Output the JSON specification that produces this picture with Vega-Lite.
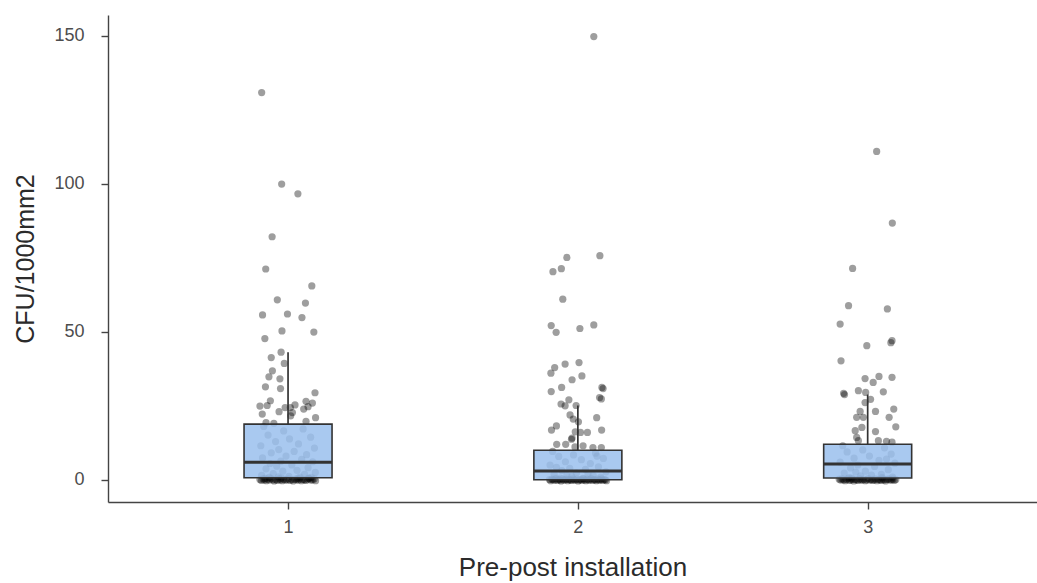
{
  "$schema": "https://vega.github.io/schema/vega-lite/v6.json",
  "width": 929,
  "height": 487,
  "autosize": {"type": "none"},
  "padding": {"left": 108, "top": 15, "right": 0, "bottom": 81},
  "background": "white",
  "config": {
    "view": {"stroke": null},
    "axis": {
      "grid": false,
      "domainColor": "#444444",
      "domainWidth": 1.4,
      "tickColor": "#444444",
      "tickWidth": 1.4,
      "tickSize": 7,
      "labelFont": "Liberation Sans",
      "labelFontSize": 18,
      "labelColor": "#4d4d4d",
      "titleFont": "Liberation Sans",
      "titleFontSize": 24,
      "titleFontWeight": "normal",
      "titleColor": "#2b2b2b"
    }
  },
  "datasets": {
    "pts": [
      {"x": 0.909, "v": 130.8}, {"x": 0.978, "v": 99.9}, {"x": 1.034, "v": 96.6}, {"x": 0.945, "v": 82.1},
      {"x": 0.923, "v": 71.2}, {"x": 1.082, "v": 65.5}, {"x": 0.963, "v": 60.8}, {"x": 1.06, "v": 59.7},
      {"x": 0.912, "v": 55.7}, {"x": 0.998, "v": 56.0}, {"x": 1.048, "v": 54.8}, {"x": 0.979, "v": 50.3},
      {"x": 1.089, "v": 49.9}, {"x": 0.92, "v": 47.7}, {"x": 0.976, "v": 43.1}, {"x": 0.942, "v": 41.3},
      {"x": 0.987, "v": 39.3}, {"x": 0.946, "v": 36.8}, {"x": 0.934, "v": 34.8}, {"x": 0.972, "v": 34.1},
      {"x": 0.922, "v": 31.4}, {"x": 0.974, "v": 30.8}, {"x": 1.093, "v": 29.4}, {"x": 0.939, "v": 26.7},
      {"x": 1.062, "v": 26.5}, {"x": 1.084, "v": 25.9}, {"x": 0.903, "v": 24.9}, {"x": 0.928, "v": 25.1},
      {"x": 0.99, "v": 24.4}, {"x": 1.024, "v": 25.3}, {"x": 0.969, "v": 23.0}, {"x": 1.008, "v": 24.4},
      {"x": 1.015, "v": 22.7}, {"x": 1.054, "v": 23.9}, {"x": 1.069, "v": 24.7}, {"x": 0.911, "v": 22.2},
      {"x": 1.095, "v": 21.0}, {"x": 1.009, "v": 21.6}, {"x": 0.924, "v": 19.3}, {"x": 0.951, "v": 19.1},
      {"x": 1.062, "v": 19.7},
      {"x": 0.916, "v": 18.0}, {"x": 1.052, "v": 17.2}, {"x": 0.985, "v": 16.5}, {"x": 0.931, "v": 15.1},
      {"x": 1.078, "v": 14.4}, {"x": 1.005, "v": 13.8}, {"x": 0.957, "v": 12.9}, {"x": 1.036, "v": 12.1},
      {"x": 0.906, "v": 11.5}, {"x": 1.091, "v": 10.7}, {"x": 0.968, "v": 10.2}, {"x": 1.021, "v": 9.6},
      {"x": 0.942, "v": 9.1}, {"x": 1.064, "v": 8.5}, {"x": 0.993, "v": 8.0}, {"x": 0.912, "v": 7.4},
      {"x": 1.047, "v": 6.9}, {"x": 0.975, "v": 6.3}, {"x": 1.085, "v": 6.1}, {"x": 0.938, "v": 5.5},
      {"x": 1.013, "v": 5.0}, {"x": 0.961, "v": 4.6}, {"x": 1.069, "v": 4.1}, {"x": 0.924, "v": 3.7},
      {"x": 1.031, "v": 3.2}, {"x": 0.982, "v": 2.9}, {"x": 1.094, "v": 2.5}, {"x": 0.949, "v": 2.1},
      {"x": 1.057, "v": 1.8}, {"x": 0.909, "v": 1.5}, {"x": 1.003, "v": 1.2}, {"x": 0.967, "v": 1.0},
      {"x": 1.041, "v": 0.9}, {"x": 0.935, "v": 0.8}, {"x": 1.08, "v": 0.8},
      {"x": 0.903, "v": 0.1}, {"x": 0.908, "v": -0.2}, {"x": 0.914, "v": 0.3}, {"x": 0.919, "v": 0.0},
      {"x": 0.925, "v": -0.3}, {"x": 0.93, "v": 0.2}, {"x": 0.936, "v": -0.1}, {"x": 0.941, "v": 0.4},
      {"x": 0.947, "v": 0.0}, {"x": 0.952, "v": -0.4}, {"x": 0.958, "v": 0.1}, {"x": 0.963, "v": -0.2},
      {"x": 0.969, "v": 0.3}, {"x": 0.974, "v": 0.0}, {"x": 0.98, "v": -0.3}, {"x": 0.985, "v": 0.2},
      {"x": 0.991, "v": -0.1}, {"x": 0.996, "v": 0.0}, {"x": 1.002, "v": 0.3}, {"x": 1.007, "v": -0.2},
      {"x": 1.013, "v": 0.1}, {"x": 1.018, "v": -0.4}, {"x": 1.024, "v": 0.2}, {"x": 1.029, "v": 0.0},
      {"x": 1.035, "v": -0.1}, {"x": 1.04, "v": 0.3}, {"x": 1.046, "v": -0.3}, {"x": 1.051, "v": 0.1},
      {"x": 1.057, "v": 0.0}, {"x": 1.062, "v": -0.2}, {"x": 1.068, "v": 0.2}, {"x": 1.073, "v": 0.4},
      {"x": 1.079, "v": -0.1}, {"x": 1.084, "v": 0.0}, {"x": 1.09, "v": 0.3}, {"x": 1.095, "v": -0.3},
      {"x": 0.921, "v": 0.5}, {"x": 0.977, "v": 0.6}, {"x": 1.033, "v": 0.5}, {"x": 1.071, "v": 0.6},

      {"x": 2.055, "v": 149.7}, {"x": 1.962, "v": 75.1}, {"x": 2.076, "v": 75.7}, {"x": 1.914, "v": 70.3},
      {"x": 1.943, "v": 71.3}, {"x": 1.948, "v": 61.0}, {"x": 1.908, "v": 52.1}, {"x": 1.925, "v": 49.8},
      {"x": 2.007, "v": 51.1}, {"x": 2.055, "v": 52.3}, {"x": 1.956, "v": 39.1}, {"x": 2.004, "v": 39.6},
      {"x": 1.92, "v": 37.9}, {"x": 1.907, "v": 36.0}, {"x": 1.98, "v": 33.8}, {"x": 2.014, "v": 35.1},
      {"x": 1.944, "v": 31.2}, {"x": 1.908, "v": 29.8}, {"x": 2.083, "v": 31.2}, {"x": 2.087, "v": 30.8},
      {"x": 2.075, "v": 27.8}, {"x": 2.081, "v": 27.3}, {"x": 1.969, "v": 27.0}, {"x": 1.942, "v": 25.6},
      {"x": 1.956, "v": 25.0}, {"x": 1.994, "v": 25.1}, {"x": 1.973, "v": 21.9}, {"x": 1.984, "v": 20.5},
      {"x": 2.002, "v": 19.6}, {"x": 2.065, "v": 21.0}, {"x": 1.926, "v": 18.2}, {"x": 1.909, "v": 16.8},
      {"x": 1.991, "v": 16.2}, {"x": 2.009, "v": 16.0}, {"x": 2.033, "v": 16.0}, {"x": 2.082, "v": 16.8},
      {"x": 1.98, "v": 14.1}, {"x": 1.927, "v": 12.0}, {"x": 1.958, "v": 12.0}, {"x": 1.978, "v": 13.7},
      {"x": 2.018, "v": 11.5}, {"x": 2.052, "v": 10.9}, {"x": 2.081, "v": 10.9}, {"x": 1.99, "v": 11.1},
      {"x": 1.913, "v": 9.6}, {"x": 2.061, "v": 9.0}, {"x": 1.985, "v": 8.4}, {"x": 1.934, "v": 7.9},
      {"x": 2.088, "v": 7.2}, {"x": 2.012, "v": 6.8}, {"x": 1.957, "v": 6.1}, {"x": 2.043, "v": 5.5},
      {"x": 1.904, "v": 5.0}, {"x": 2.071, "v": 4.4}, {"x": 1.972, "v": 3.9}, {"x": 2.026, "v": 3.5},
      {"x": 1.945, "v": 3.1}, {"x": 2.097, "v": 2.7}, {"x": 1.995, "v": 2.3}, {"x": 1.918, "v": 1.9},
      {"x": 2.053, "v": 1.5}, {"x": 1.979, "v": 1.2}, {"x": 2.079, "v": 0.9}, {"x": 1.939, "v": 0.6},
      {"x": 2.017, "v": 0.5}, {"x": 1.962, "v": 1.4}, {"x": 2.035, "v": 2.0}, {"x": 1.926, "v": 4.2},
      {"x": 2.066, "v": 8.0},
      {"x": 1.902, "v": 0.1}, {"x": 1.906, "v": -0.3}, {"x": 1.911, "v": 0.2}, {"x": 1.915, "v": 0.0},
      {"x": 1.92, "v": -0.1}, {"x": 1.924, "v": 0.4}, {"x": 1.929, "v": -0.2}, {"x": 1.933, "v": 0.1},
      {"x": 1.938, "v": 0.0}, {"x": 1.942, "v": -0.4}, {"x": 1.947, "v": 0.3}, {"x": 1.951, "v": -0.1},
      {"x": 1.956, "v": 0.0}, {"x": 1.96, "v": 0.2}, {"x": 1.965, "v": -0.3}, {"x": 1.969, "v": 0.1},
      {"x": 1.974, "v": 0.0}, {"x": 1.978, "v": -0.2}, {"x": 1.983, "v": 0.3}, {"x": 1.987, "v": 0.0},
      {"x": 1.992, "v": -0.1}, {"x": 1.996, "v": 0.2}, {"x": 2.001, "v": -0.4}, {"x": 2.005, "v": 0.0},
      {"x": 2.01, "v": 0.1}, {"x": 2.014, "v": -0.2}, {"x": 2.019, "v": 0.3}, {"x": 2.023, "v": 0.0},
      {"x": 2.028, "v": -0.3}, {"x": 2.032, "v": 0.2}, {"x": 2.037, "v": -0.1}, {"x": 2.041, "v": 0.0},
      {"x": 2.046, "v": 0.4}, {"x": 2.05, "v": -0.2}, {"x": 2.055, "v": 0.1}, {"x": 2.059, "v": 0.0},
      {"x": 2.064, "v": -0.3}, {"x": 2.068, "v": 0.2}, {"x": 2.073, "v": -0.1}, {"x": 2.077, "v": 0.0},
      {"x": 2.082, "v": 0.3}, {"x": 2.086, "v": -0.2}, {"x": 2.091, "v": 0.1}, {"x": 2.095, "v": 0.0},
      {"x": 2.099, "v": -0.3},

      {"x": 3.031, "v": 110.9}, {"x": 3.085, "v": 86.7}, {"x": 2.948, "v": 71.4}, {"x": 2.934, "v": 58.8},
      {"x": 3.068, "v": 57.7}, {"x": 2.905, "v": 52.6}, {"x": 3.084, "v": 47.0}, {"x": 3.08, "v": 46.3},
      {"x": 2.997, "v": 45.3}, {"x": 2.908, "v": 40.2}, {"x": 2.991, "v": 34.2}, {"x": 3.039, "v": 34.9},
      {"x": 3.019, "v": 32.9}, {"x": 3.084, "v": 34.6}, {"x": 2.917, "v": 29.2}, {"x": 2.92, "v": 28.8},
      {"x": 2.968, "v": 30.1}, {"x": 2.993, "v": 29.5}, {"x": 3.054, "v": 29.7}, {"x": 3.01, "v": 27.2},
      {"x": 2.991, "v": 26.1}, {"x": 2.974, "v": 23.1}, {"x": 3.027, "v": 23.1}, {"x": 3.09, "v": 23.9},
      {"x": 2.962, "v": 21.1}, {"x": 3.074, "v": 21.1}, {"x": 2.985, "v": 21.1}, {"x": 3.097, "v": 17.9},
      {"x": 3.027, "v": 16.3}, {"x": 2.957, "v": 16.6}, {"x": 2.98, "v": 17.7}, {"x": 2.962, "v": 14.3},
      {"x": 2.968, "v": 13.2}, {"x": 3.037, "v": 13.2}, {"x": 3.065, "v": 13.0}, {"x": 3.084, "v": 12.7},
      {"x": 2.914, "v": 11.5}, {"x": 3.058, "v": 10.8}, {"x": 2.983, "v": 10.1}, {"x": 2.929, "v": 9.4},
      {"x": 3.081, "v": 8.7}, {"x": 3.006, "v": 8.0}, {"x": 2.953, "v": 7.3}, {"x": 3.039, "v": 6.6},
      {"x": 2.905, "v": 6.0}, {"x": 3.094, "v": 5.6}, {"x": 2.966, "v": 5.0}, {"x": 3.024, "v": 4.5},
      {"x": 2.941, "v": 4.0}, {"x": 3.071, "v": 3.4}, {"x": 2.992, "v": 2.9}, {"x": 2.919, "v": 2.3},
      {"x": 3.047, "v": 1.8}, {"x": 2.975, "v": 1.3}, {"x": 3.086, "v": 0.9}, {"x": 2.936, "v": 0.7},
      {"x": 3.013, "v": 1.6}, {"x": 2.959, "v": 2.6}, {"x": 3.065, "v": 7.0},
      {"x": 2.902, "v": 0.2}, {"x": 2.907, "v": -0.1}, {"x": 2.912, "v": 0.3}, {"x": 2.917, "v": 0.0},
      {"x": 2.922, "v": -0.3}, {"x": 2.927, "v": 0.1}, {"x": 2.932, "v": 0.4}, {"x": 2.937, "v": -0.2},
      {"x": 2.942, "v": 0.0}, {"x": 2.947, "v": 0.2}, {"x": 2.952, "v": -0.4}, {"x": 2.957, "v": 0.1},
      {"x": 2.962, "v": 0.0}, {"x": 2.967, "v": -0.2}, {"x": 2.972, "v": 0.3}, {"x": 2.977, "v": 0.0},
      {"x": 2.982, "v": -0.1}, {"x": 2.987, "v": 0.2}, {"x": 2.992, "v": -0.3}, {"x": 2.997, "v": 0.0},
      {"x": 3.002, "v": 0.4}, {"x": 3.007, "v": -0.1}, {"x": 3.012, "v": 0.1}, {"x": 3.017, "v": -0.2},
      {"x": 3.022, "v": 0.0}, {"x": 3.027, "v": 0.3}, {"x": 3.032, "v": -0.3}, {"x": 3.037, "v": 0.1},
      {"x": 3.042, "v": 0.0}, {"x": 3.047, "v": -0.2}, {"x": 3.052, "v": 0.2}, {"x": 3.057, "v": 0.0},
      {"x": 3.062, "v": -0.4}, {"x": 3.067, "v": 0.1}, {"x": 3.072, "v": 0.3}, {"x": 3.077, "v": -0.1},
      {"x": 3.082, "v": 0.0}, {"x": 3.087, "v": 0.2}, {"x": 3.092, "v": -0.2}, {"x": 3.097, "v": 0.1},
      {"x": 2.945, "v": 0.6}, {"x": 3.05, "v": 0.7}
    ],
    "box": [
      {"g": 1, "lo": 0, "q1": 0.7, "med": 5.9, "q3": 18.8, "hi": 43.1},
      {"g": 2, "lo": 0, "q1": 0.0, "med": 3.0, "q3": 10.0, "hi": 25.1},
      {"g": 3, "lo": 0, "q1": 0.6, "med": 5.3, "q3": 12.0, "hi": 28.8}
    ]
  },
  "layer": [
    {
      "data": {"name": "pts"},
      "mark": {"type": "circle", "size": 52, "color": "black", "opacity": 0.38},
      "encoding": {
        "x": {
          "field": "x", "type": "quantitative",
          "scale": {"domain": [0.396, 3.567], "nice": false, "zero": false},
          "axis": {"values": [1, 2, 3], "format": "d", "title": "Pre-post installation", "labelPadding": 9, "titlePadding": 18, "titleFontSize": 26}
        },
        "y": {
          "field": "v", "type": "quantitative",
          "scale": {"domain": [-7.5, 157], "nice": false, "zero": false},
          "axis": {"values": [0, 50, 100, 150], "title": "CFU/1000mm2", "labelPadding": 17, "titlePadding": 15, "titleFontSize": 25}
        }
      }
    },
    {
      "data": {"name": "box"},
      "mark": {"type": "rule", "color": "#333333", "strokeWidth": 1.7},
      "encoding": {
        "x": {"field": "g", "type": "quantitative"},
        "y": {"field": "q3", "type": "quantitative"},
        "y2": {"field": "hi"}
      }
    },
    {
      "data": {"name": "box"},
      "mark": {"type": "rule", "color": "#333333", "strokeWidth": 1.7},
      "encoding": {
        "x": {"field": "g", "type": "quantitative"},
        "y": {"field": "lo", "type": "quantitative"},
        "y2": {"field": "q1"}
      }
    },
    {
      "data": {"name": "box"},
      "mark": {"type": "bar", "size": 88, "fill": "#9abfed", "fillOpacity": 0.85, "stroke": "#333333", "strokeWidth": 1.6},
      "encoding": {
        "x": {"field": "g", "type": "quantitative"},
        "y": {"field": "q1", "type": "quantitative"},
        "y2": {"field": "q3"}
      }
    },
    {
      "data": {"name": "box"},
      "mark": {"type": "tick", "orient": "horizontal", "size": 88, "thickness": 3, "color": "#333333", "opacity": 1},
      "encoding": {
        "x": {"field": "g", "type": "quantitative"},
        "y": {"field": "med", "type": "quantitative"}
      }
    }
  ]
}
